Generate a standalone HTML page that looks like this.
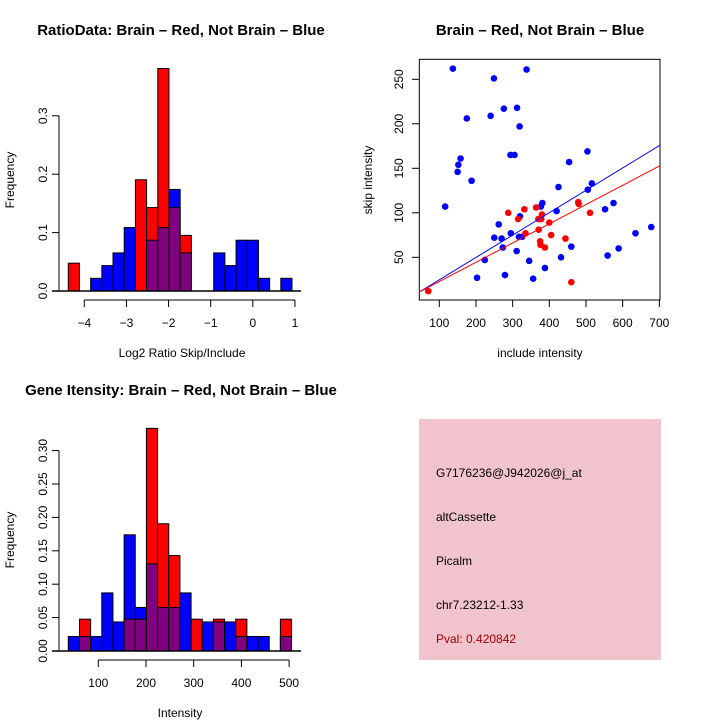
<!DOCTYPE html>
<html><head><meta charset="utf-8"><style>
html,body{margin:0;padding:0;background:#fff}
svg{display:block;font-family:"Liberation Sans",Arial,sans-serif}
</style></head><body>
<svg id="c" width="720" height="720" viewBox="0 0 720 720">
<rect width="720" height="720" fill="#fff"/>
<text x="181" y="35" text-anchor="middle" font-weight="bold" font-size="15">RatioData: Brain – Red, Not Brain – Blue</text>
<text x="182" y="357" text-anchor="middle" font-size="12">Log2 Ratio Skip/Include</text>
<text transform="translate(14,180) rotate(-90)" text-anchor="middle" font-size="12">Frequency</text>
<text x="540" y="35" text-anchor="middle" font-weight="bold" font-size="15">Brain – Red, Not Brain – Blue</text>
<text x="540" y="357" text-anchor="middle" font-size="12">include intensity</text>
<text transform="translate(372,180) rotate(-90)" text-anchor="middle" font-size="12">skip intensity</text>
<text x="181" y="395" text-anchor="middle" font-weight="bold" font-size="15">Gene Itensity: Brain – Red, Not Brain – Blue</text>
<text x="180" y="717" text-anchor="middle" font-size="12">Intensity</text>
<text transform="translate(14,540) rotate(-90)" text-anchor="middle" font-size="12">Frequency</text>
<g>
<rect x="419" y="419" width="242" height="241" fill="#f1c3cd"/>
<text x="436" y="477" font-size="12">G7176236@J942026@j_at</text>
<text x="436" y="521" font-size="12">altCassette</text>
<text x="436" y="565" font-size="12">Picalm</text>
<text x="436" y="609" font-size="12">chr7.23212-1.33</text>
<text x="436" y="643" font-size="12" fill="#a00000">Pval: 0.420842</text>
</g>
<g id="h1"></g>
<g id="h2"></g>
<g id="sc"></g>
</svg>
<script>
// Ratio histogram data
const ratioStart = -4.38;
const ratioWidth = 0.2655;
const ratioBlueCounts = [0,0,1,2,3,5,0,4,5,8,3,0,0,3,2,4,4,1,0,1];
const ratioRedCounts = [1,0,0,0,0,0,4,3,8,3,2,0,0,0,0,0,0,0,0,0];
const ratioXTicks = [-4,-3,-2,-1,0,1];
const ratioYTicks = [0,0.1,0.2,0.3];
const ratioYLabels = ["0.0","0.1","0.2","0.3"];
// Intensity histogram data
const intStart = 37.1;
const intWidth = 23.4;
const intBlueCounts = [1,1,1,4,2,8,3,6,3,3,4,0,2,2,2,1,1,1,0,1];
const intRedCounts = [0,1,0,0,0,1,1,7,4,3,0,1,0,1,0,1,0,0,0,1];
const intXTicks = [100,200,300,400,500];
const intYTicks = [0,0.05,0.1,0.15,0.2,0.25,0.3];
const intYLabels = ["0.00","0.05","0.10","0.15","0.20","0.25","0.30"];
const nBlue = 46, nRed = 21;
// Scatter data
const blueX = [137,249,338,276,312,175,240,319,294,305,158,152,150,188,504,454,116,425,516,505,381,377,575,552,420,320,262,678,635,295,250,270,317,326,273,460,311,432,559,589,224,345,388,203,279,356];
const blueY = [262,251,261,217,218,206,209,197,165,165,161,154,146,136,169,157,107,129,133,126,111,107,111,104,102,96,87,84,77,77,72,71,73,73,61,62,57,50,52,60,47,46,38,27,30,26];
const redX = [70,288,315,332,364,380,378,370,335,371,400,405,375,376,388,444,479,480,511,460];
const redY = [12,100,93,104,106,98,93,93,77,81,89,75,68,64,61,71,112,110,100,22];
const lineBlue = [-0.43, 0.2513];
const lineRed = [1.16, 0.2163];
const scXTicks = [100,200,300,400,500,600,700];
const scYTicks = [50,100,150,200,250];

const NS = "http://www.w3.org/2000/svg";
function mk(p, tag, at){const e=document.createElementNS(NS,tag);for(const k in at)e.setAttribute(k,at[k]);p.appendChild(e);return e;}

function hist(g, start, width, blue, red, xTicks, yTicks, yLabels, sx, sy, xAxisY, yAxisX, nm){
  for(let i=0;i<blue.length;i++){
    const fb=blue[i]/nBlue, fr=red[i]/nRed;
    const x0=sx(start+i*width), x1=sx(start+(i+1)*width);
    const bars=[];
    if(fb>0&&fr>0){
      if(fb>=fr){bars.push([fb,'#0000ff']);bars.push([fr,'#800080']);}
      else{bars.push([fr,'#ff0000']);bars.push([fb,'#800080']);}
    } else if(fb>0) bars.push([fb,'#0000ff']);
    else if(fr>0) bars.push([fr,'#ff0000']);
    for(const [v,c] of bars){
      const r=mk(g,'rect',{x:x0,y:sy(v),width:x1-x0,height:sy(0)-sy(v),fill:c,stroke:'#000','stroke-width':1});
      
      
    }
  }
  mk(g,'line',{x1:52,x2:301,y1:sy(0),y2:sy(0),stroke:'#000','stroke-width':1.5});
  mk(g,'line',{x1:yAxisX,x2:yAxisX,y1:sy(yTicks[0]),y2:sy(yTicks[yTicks.length-1]),stroke:'#000'});
  yTicks.forEach((t,i)=>{
    mk(g,'line',{x1:yAxisX-7,x2:yAxisX,y1:sy(t),y2:sy(t),stroke:'#000'});
    const tx=mk(g,'text',{transform:`translate(${yAxisX-12},${sy(t)}) rotate(-90)`,'text-anchor':'middle','font-size':12});
    tx.textContent=yLabels[i];
    
    
  });
  mk(g,'line',{x1:sx(xTicks[0]),x2:sx(xTicks[xTicks.length-1]),y1:xAxisY,y2:xAxisY,stroke:'#000'});
  xTicks.forEach(t=>{
    mk(g,'line',{x1:sx(t),x2:sx(t),y1:xAxisY,y2:xAxisY+7,stroke:'#000'});
    const tx=mk(g,'text',{x:sx(t),y:xAxisY+27,'text-anchor':'middle','font-size':12});
    tx.textContent=String(t).replace('-','\u2212');
    
    
  });
}
hist(document.getElementById('h1'), ratioStart, ratioWidth, ratioBlueCounts, ratioRedCounts, ratioXTicks, ratioYTicks, ratioYLabels,
  v=>84.3+(v+4)*42.13, v=>291-v*584, 300, 59, 'ratio');
hist(document.getElementById('h2'), intStart, intWidth, intBlueCounts, intRedCounts, intXTicks, intYTicks, intYLabels,
  v=>98.3+(v-100)*0.477, v=>651-v*668, 660, 59, 'intensity');

const sc=document.getElementById('sc');
const px=v=>439.3+(v-100)*0.3667, py=v=>79.3+(250-v)*0.89;
const cp=mk(sc,'clipPath',{id:'cl'}); mk(cp,'rect',{x:419.3,y:59.3,width:240.7,height:240.7});
mk(sc,'rect',{x:419.3,y:59.3,width:240.7,height:240.7,fill:'none',stroke:'#000'});
for(let i=0;i<blueX.length;i++){
  const c=mk(sc,'circle',{cx:px(blueX[i]),cy:py(blueY[i]),r:3.3,fill:'#0000ff'});
  
  
}
for(let i=0;i<redX.length;i++){
  const c=mk(sc,'circle',{cx:px(redX[i]),cy:py(redY[i]),r:3.3,fill:'#ff0000'});
  
  
}
[[lineBlue,'#0000ff','blue-fit-line'],[lineRed,'#ff0000','red-fit-line']].forEach(([l,c,n])=>{
  const x0=0,x1=800;
  const ln=mk(sc,'line',{x1:px(x0),y1:py(l[0]+l[1]*x0),x2:px(x1),y2:py(l[0]+l[1]*x1),stroke:c,'stroke-width':1,'clip-path':'url(#cl)'});
  
  
});
scXTicks.forEach(t=>{
  mk(sc,'line',{x1:px(t),x2:px(t),y1:300,y2:307,stroke:'#000'});
  const tx=mk(sc,'text',{x:px(t),y:327,'text-anchor':'middle','font-size':12}); tx.textContent=t;
  
  
});
scYTicks.forEach(t=>{
  mk(sc,'line',{x1:412,x2:419.3,y1:py(t),y2:py(t),stroke:'#000'});
  const tx=mk(sc,'text',{transform:`translate(403,${py(t)}) rotate(-90)`,'text-anchor':'middle','font-size':12}); tx.textContent=t;
  
  
});
</script>
</body></html>
